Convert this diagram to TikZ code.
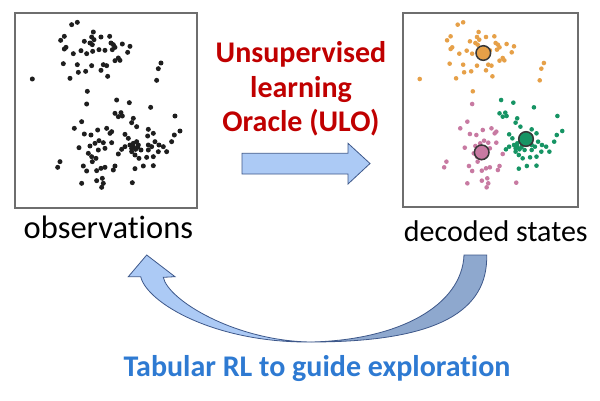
\documentclass[tikz,border=0pt]{standalone}
\usepackage{fontspec}
\setmainfont[Ligatures=NoCommon]{Carlito}
\usetikzlibrary{calc}
\definecolor{boxgray}{RGB}{110,110,110}
\definecolor{dotblack}{RGB}{30,30,30}
\definecolor{dotorange}{RGB}{230,160,72}
\definecolor{dotgreen}{RGB}{22,148,100}
\definecolor{dotpink}{RGB}{200,122,162}
\definecolor{titlered}{RGB}{192,0,0}
\definecolor{rlblue}{RGB}{46,122,210}
\definecolor{arrowlight}{RGB}{172,202,245}
\definecolor{arrowdark}{RGB}{142,168,206}
\definecolor{arrowline}{RGB}{62,88,138}
\newcommand{\OrangeList}{170/35,187/28,235/57,230/72,237/80,225/90,232/95,258/72,284/70,148/70,137/82,208/85,153/103,148/108,175/122,198/113,215/122,233/115,252/110,270/112,288/90,295/95,300/103,322/93,345/100,338/118,292/110,310/135,300/143,315/142,145/152,187/155,230/158,265/155,275/158,190/178,212/175,258/172,278/190,52/198,165/196,438/150,430/167,425/202,217/235}
\newcommand{\PinkList}{215/12,200/65,178/85,208/102,228/105,248/90,275/85,290/95,285/100,192/143,225/138,240/130,252/122,265/128,290/128,270/145,250/150,220/160,230/170,243/175,232/185,310/162,135/185,128/202,205/198,215/213,245/212,258/205,270/202,300/198,295/210,200/250,245/242,262/235,265/250,260/262,352/248}
\newcommand{\GreenList}{305/0,343/8,407/22,300/40,318/38,322/48,310/50,355/55,350/68,365/80,480/48,330/103,340/115,400/88,415/100,398/108,478/105,495/93,470/125,320/148,330/140,345/135,355/140,365/125,370/135,378/150,350/155,360/165,372/175,400/135,410/140,420/125,432/135,445/140,455/155,430/155,400/150,415/170,395/172,360/206,385/198,415/197,355/130,362/148,368/142,350/145}
\tikzset{
  panel/.style={draw=boxgray, line width=1.5pt, fill=white, inner sep=0pt},
  caption/.style={font=\fontsize{30}{34}\selectfont, text=black, inner sep=0pt, anchor=base},
  redtitle/.style={font=\fontsize{30}{34}\selectfont\bfseries, text=titlered, inner sep=0pt, anchor=base},
  bluetitle/.style={font=\fontsize{30}{34}\selectfont\bfseries, text=rlblue, inner sep=0pt, anchor=base},
  blockarrow/.style={fill=arrowlight, draw=arrowline, line width=0.8pt, line join=miter},
  centroid/.style={draw={rgb,255:red,55;green,55;blue,55}, line width=1.5pt}
}
\begin{document}
\begin{tikzpicture}[x=1pt,y=-1pt]
\useasboundingbox (0,0) rectangle (600,400);
\fill[white] (0,0) rectangle (600,400);
% panels
\node[panel, minimum width=182pt, minimum height=195pt] (obsbox) at (106,110.5) {};
\node[panel, minimum width=175pt, minimum height=194pt] (decbox) at (490.5,110) {};
% left dots
\begin{scope}[shift={(15,13)}, x=0.3333pt, y=-0.3333pt]
  \foreach \a/\b in \OrangeList {\fill[dotblack] (\a,\b) circle (2.5pt);}
\end{scope}
\begin{scope}[shift={(15,100)}, x=0.3333pt, y=-0.3333pt]
  \foreach \a/\b in \PinkList {\fill[dotblack] (\a,\b) circle (2.5pt);}
  \foreach \a/\b in \GreenList {\fill[dotblack] (\a,\b) circle (2.5pt);}
\end{scope}
% right dots
\begin{scope}[shift={(403,13)}, x=0.3217pt, y=-0.3333pt]
  \foreach \a/\b in \OrangeList {\fill[dotorange] (\a,\b) circle (2.3pt);}
\end{scope}
\begin{scope}[shift={(403,100)}, x=0.3217pt, y=-0.3333pt]
  \foreach \a/\b in \PinkList {\fill[dotpink] (\a,\b) circle (2.3pt);}
  \foreach \a/\b in \GreenList {\fill[dotgreen] (\a,\b) circle (2.3pt);}
\end{scope}
% centroids
\filldraw[centroid, fill=dotorange] (483.3,53) circle (7.3pt);
\filldraw[centroid, fill=dotgreen] (526,139) circle (7.3pt);
\filldraw[centroid, fill=dotpink] (481.7,152.3) circle (7.3pt);
% captions
\node[caption, font=\fontsize{32.5}{34}\selectfont] (obslabel) at (108.4,238.3) {observations};
\node[caption] (declabel) at (495.8,241.7) {decoded states};
% red title
\node[redtitle] (ulo1) at (301,62.3) {Unsupervised};
\node[redtitle] (ulo2) at (301,97.5) {learning};
\node[redtitle] (ulo3) at (301,131.7) {Oracle (ULO)};
% straight block arrow
\coordinate (sa) at (242,163.5);
\coordinate (sb) at (370,163.5);
\draw[blockarrow] ($(sa)+(0,-10.2)$) -- (348,153.3) -- (348,143.3) -- (sb) -- (348,184) -- (348,174) -- ($(sa)+(0,10.5)$) -- cycle;
% curved arrow: dark back part
\coordinate (cq) at (311,342);
\coordinate (ctip) at (146.7,255);
\draw[blockarrow, fill=arrowdark] (cq) .. controls (440,342) and (488,310) .. (486.7,255) -- (464,255) .. controls (462,305) and (400,340) .. (cq) -- cycle;
% curved arrow: light front part
\draw[blockarrow] (ctip) -- (175,276.7) -- (163.3,277.3) .. controls (168,300) and (235,341) .. (cq) .. controls (215,343) and (147,303) .. (140.7,276.7) -- (128.3,276.7) -- cycle;
% blue caption
\node[bluetitle] (rllabel) at (317,376.7) {Tabular RL to guide exploration};
\end{tikzpicture}
\end{document}
